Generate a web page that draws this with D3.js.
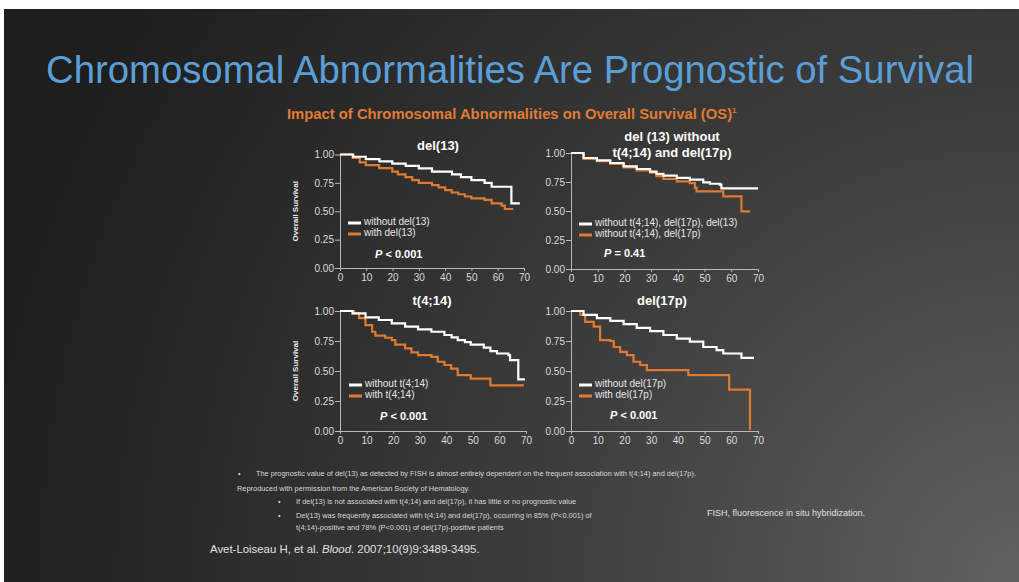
<!DOCTYPE html>
<head>
  <meta charset="utf-8">
  <style>
    html, body { margin: 0; padding: 0; background: #fff; }
    svg { display: block; font-family: "Liberation Sans", Arial, sans-serif; }
    .axis path, .axis line { stroke: #b9b9b9; stroke-width: 1px; }
    .axis text { fill: #dcdcdc; font-size: 10px; font-family: "Liberation Sans", Arial, sans-serif; }
    .curve { fill: none; stroke-width: 2.2px; }
  </style>
</head>
<body>
  <svg></svg>
  <script src="https://d3js.org/d3.v7.min.js"></script>
  <script>
  // ---- data (months, overall survival) ----
  const xTicks = [0, 10, 20, 30, 40, 50, 60, 70];
  const yTicks = [0, 0.25, 0.5, 0.75, 1];

  const del13Without = [[0,1],[5,0.98],[9.8,0.96],[15,0.94],[19.9,0.92],[25,0.9],[30,0.877],[35,0.85],[42.6,0.825],[46,0.8],[50,0.775],[55,0.75],[57.7,0.716],[65.2,0.57],[68.4,0.57]];
  const del13With = [[0,1],[4.8,0.97],[7.5,0.93],[9.8,0.906],[14.9,0.88],[19.9,0.85],[22,0.825],[24.9,0.8],[27.5,0.775],[30,0.75],[35,0.73],[37.5,0.71],[40,0.687],[42.5,0.665],[45,0.65],[47.5,0.63],[50,0.614],[55,0.6],[57.7,0.57],[61.5,0.55],[62.7,0.52],[65.9,0.52]];

  const noHighRiskWithout = [[0,1],[4.7,0.957],[9.7,0.937],[14.7,0.914],[19.7,0.885],[24.6,0.862],[29.6,0.84],[32,0.82],[34.6,0.805],[39.6,0.785],[44.5,0.77],[49.5,0.747],[52,0.735],[55.7,0.727],[56.3,0.695],[70,0.695]];
  const noHighRiskWith = [[0,1],[4.7,0.95],[9.7,0.93],[14.7,0.905],[19.7,0.875],[24.6,0.85],[29.6,0.83],[32,0.8],[34.6,0.776],[39.6,0.756],[44.5,0.74],[46.4,0.7],[47,0.67],[57,0.626],[63.8,0.497],[67,0.497]];

  const t414Without = [[0,1],[4.7,0.98],[9.6,0.947],[14.6,0.925],[19.5,0.897],[24.5,0.87],[29.4,0.847],[34.4,0.827],[39.3,0.8],[42,0.78],[44.3,0.758],[47,0.74],[49.2,0.72],[54.1,0.694],[56.6,0.666],[59.1,0.646],[63.4,0.632],[64,0.59],[67.1,0.43],[69.6,0.43]];
  const t414With = [[0,1],[5.3,0.98],[7.2,0.94],[9.6,0.883],[12.1,0.827],[13.3,0.794],[17,0.777],[19.5,0.758],[20.8,0.72],[24.5,0.688],[26.9,0.655],[29.4,0.632],[34.4,0.618],[36.8,0.577],[39.3,0.55],[41.8,0.52],[44.3,0.465],[49.2,0.437],[56.6,0.38],[69.2,0.38]];

  const del17pWithout = [[0,1],[4.7,0.967],[9.7,0.94],[14.7,0.917],[19.7,0.89],[24.6,0.86],[29.6,0.833],[34.6,0.8],[39.6,0.77],[44.5,0.744],[49.5,0.7],[54.5,0.674],[57,0.646],[63.8,0.61],[68.5,0.61]];
  const del17pWith = [[0,1],[3.5,0.967],[5.3,0.91],[8.5,0.87],[10.9,0.757],[14.7,0.75],[16,0.7],[18.4,0.66],[20.9,0.632],[23.4,0.577],[25.9,0.55],[28.4,0.507],[43.9,0.465],[59.2,0.345],[67,0.01]];

  const footnotes = [
    {t: "The  prognostic value of del(13) as detected by FISH is almost entirely dependent on  the  frequent association with t(4;14) and del(17p).", x: 256, y: 476, bullet: 238},
    {t: "Reproduced with permission  from the American Society of Hematology.", x: 237, y: 491},
    {t: "If del(13) is not associated with t(4;14) and del(17p),  it has little or no prognostic value", x: 296, y: 504, bullet: 278},
    {t: "Del(13) was frequently associated with t(4;14) and del(17p),  occurring in 85% (P<0.001)  of", x: 296, y: 518, bullet: 278},
    {t: "t(4;14)-positive and 78% (P<0.001)  of del(17p)-positive patients", x: 296, y: 530}
  ];

  const white = "#ffffff", orange = "#df7a30";

  const panels = [
    {x0: 340, x1: 524, y0: 154.5, y1: 268, title: ["del(13)"], tx: 438, ty: 150,
     series: [del13Without, del13With], labels: ["without del(13)", "with del(13)"],
     lx: 348, ly: 223, pText: "< 0.001", pEq: "", px: 375, py: 258, ylab: true},
    {x0: 571, x1: 758, y0: 153, y1: 269, title: ["del (13) without", "t(4;14) and del(17p)"], tx: 672, ty: 141,
     series: [noHighRiskWithout, noHighRiskWith], labels: ["without t(4;14), del(17p),  del(13)", "without t(4;14), del(17p)"],
     lx: 579, ly: 224, pText: "= 0.41", px: 604, py: 257, ylab: false},
    {x0: 340, x1: 526, y0: 311, y1: 431, title: ["t(4;14)"], tx: 432, ty: 305,
     series: [t414Without, t414With], labels: ["without t(4;14)", "with t(4;14)"],
     lx: 349, ly: 385, pText: "< 0.001", px: 380, py: 420, ylab: true},
    {x0: 571, x1: 758, y0: 311, y1: 431, title: ["del(17p)"], tx: 662, ty: 305,
     series: [del17pWithout, del17pWith], labels: ["without del(17p)", "with del(17p)"],
     lx: 579, ly: 385, pText: "< 0.001", px: 610, py: 419, ylab: false}
  ];

  const width = 1019, height = 582;
  const svg = d3.select("svg").attr("width", width).attr("height", height);

  // slide background
  const defs = svg.append("defs");
  const grad = defs.append("radialGradient").attr("id", "bg")
      .attr("gradientUnits", "userSpaceOnUse")
      .attr("cx", 1019).attr("cy", 582).attr("r", 1050);
  grad.append("stop").attr("offset", 0).attr("stop-color", "#616161");
  grad.append("stop").attr("offset", 0.45).attr("stop-color", "#3d3d3d");
  grad.append("stop").attr("offset", 1).attr("stop-color", "#1e1e1e");

  svg.append("rect").attr("width", width).attr("height", height).attr("fill", "#fff");
  svg.append("rect").attr("x", 4).attr("y", 9).attr("width", width - 4).attr("height", height - 9)
      .attr("fill", "url(#bg)");

  svg.append("text").attr("x", 46).attr("y", 83)
      .attr("fill", "#5b9fd8").attr("font-size", 38.3)
      .text("Chromosomal Abnormalities Are Prognostic of Survival");

  const sub = svg.append("text").attr("x", 287).attr("y", 119)
      .attr("fill", "#e07b33").attr("font-size", 14.8).attr("font-weight", "bold")
      .text("Impact of Chromosomal Abnormalities on Overall Survival (OS)");
  sub.append("tspan").attr("font-size", 8).attr("dy", -6).text("1");

  panels.forEach(function(p) {
    const x = d3.scaleLinear().domain([0, 70]).range([p.x0, p.x1]);
    const y = d3.scaleLinear().domain([0, 1]).range([p.y1, p.y0]);
    const g = svg.append("g");

    g.append("g").attr("class", "axis")
        .attr("transform", "translate(0," + p.y1 + ")")
        .call(d3.axisBottom(x).tickValues(xTicks).tickSize(3).tickSizeOuter(0));
    g.append("g").attr("class", "axis")
        .attr("transform", "translate(" + p.x0 + ",0)")
        .call(d3.axisLeft(y).tickValues(yTicks).tickFormat(d3.format(".2f")).tickSize(5).tickSizeOuter(0).tickPadding(1));

    p.title.forEach(function(t, i) {
      g.append("text").attr("x", p.tx).attr("y", p.ty + i * 16)
          .attr("text-anchor", "middle").attr("fill", "#fff")
          .attr("font-size", 13).attr("font-weight", "bold").text(t);
    });

    if (p.ylab) {
      g.append("text")
          .attr("transform", "translate(298," + (p.y0 + p.y1) / 2 + ") rotate(-90)")
          .attr("text-anchor", "middle").attr("fill", "#e8e8e8")
          .attr("font-size", 8).attr("font-weight", "bold")
          .text("Overall Survival");
    }

    const line = d3.line()
        .x(function(d) { return x(d[0]); })
        .y(function(d) { return y(d[1]); })
        .curve(d3.curveStepAfter);

    // orange first so white sits on top
    [1, 0].forEach(function(i) {
      g.append("path").attr("class", "curve")
          .attr("stroke", i === 0 ? white : orange)
          .attr("d", line(p.series[i]));
    });

    p.labels.forEach(function(lab, i) {
      const yy = p.ly + i * 11;
      g.append("line").attr("x1", p.lx).attr("x2", p.lx + 13)
          .attr("y1", yy).attr("y2", yy)
          .attr("stroke", i === 0 ? white : orange).attr("stroke-width", 3);
      g.append("text").attr("x", p.lx + 16).attr("y", yy + 2)
          .attr("fill", "#e6e6e6").attr("font-size", 10).text(lab);
    });

    const pt = g.append("text").attr("x", p.px).attr("y", p.py)
        .attr("fill", "#fff").attr("font-size", 11).attr("font-weight", "bold");
    pt.append("tspan").attr("font-style", "italic").text("P");
    pt.append("tspan").text(" " + p.pText);
  });

  // footnotes
  footnotes.forEach(function(f) {
    if (f.bullet) {
      svg.append("text").attr("x", f.bullet).attr("y", f.y)
          .attr("fill", "#d8d8d8").attr("font-size", 7.4).text("•");
    }
    svg.append("text").attr("x", f.x).attr("y", f.y)
        .attr("fill", "#d8d8d8").attr("font-size", 7.4).text(f.t);
  });

  svg.append("text").attr("x", 707).attr("y", 516)
      .attr("fill", "#e0e0e0").attr("font-size", 9)
      .text("FISH, fluorescence in situ hybridization.");

  const ref = svg.append("text").attr("x", 210).attr("y", 553)
      .attr("fill", "#e0e0e0").attr("font-size", 11.4);
  ref.append("tspan").text("Avet-Loiseau H, et al. ");
  ref.append("tspan").attr("font-style", "italic").text("Blood");
  ref.append("tspan").text(". 2007;10(9)9:3489-3495.");
  </script>
</body>
